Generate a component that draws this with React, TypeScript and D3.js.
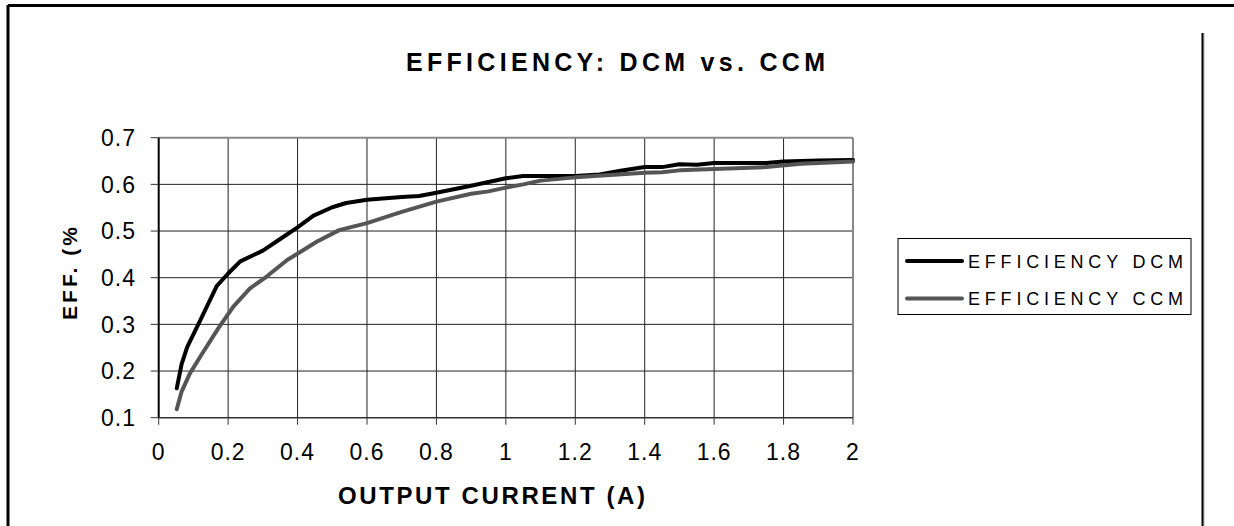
import React from 'react';
import * as d3 from 'd3';

// values
const xTicks = [0, 0.2, 0.4, 0.6, 0.8, 1, 1.2, 1.4, 1.6, 1.8, 2];
const yTicks = [0.1, 0.2, 0.3, 0.4, 0.5, 0.6, 0.7];

const dcmCurrent = [0.052, 0.066, 0.082, 0.12, 0.167, 0.2, 0.235, 0.3, 0.35, 0.4, 0.446, 0.5, 0.54, 0.6, 0.7, 0.75, 0.8, 0.9, 1.0, 1.05, 1.1, 1.2, 1.27, 1.33, 1.4, 1.45, 1.5, 1.55, 1.6, 1.7, 1.75, 1.8, 1.9, 2.0];
const dcmEff = [0.163, 0.215, 0.251, 0.309, 0.382, 0.409, 0.435, 0.458, 0.483, 0.508, 0.533, 0.551, 0.56, 0.567, 0.573, 0.575, 0.582, 0.597, 0.613, 0.618, 0.618, 0.618, 0.621, 0.629, 0.637, 0.637, 0.643, 0.642, 0.646, 0.646, 0.646, 0.649, 0.651, 0.652];

const ccmCurrent = [0.052, 0.066, 0.09, 0.12, 0.172, 0.215, 0.263, 0.31, 0.37, 0.41, 0.455, 0.52, 0.6, 0.7, 0.8, 0.9, 0.95, 1.0, 1.05, 1.1, 1.2, 1.3, 1.4, 1.45, 1.5, 1.6, 1.75, 1.85, 1.9, 2.0];
const ccmEff = [0.118, 0.156, 0.195, 0.231, 0.292, 0.338, 0.377, 0.402, 0.438, 0.456, 0.477, 0.502, 0.517, 0.541, 0.563, 0.58, 0.585, 0.593, 0.6, 0.608, 0.615, 0.62, 0.625, 0.626, 0.63, 0.633, 0.637, 0.644, 0.646, 0.649];

const seriesNames = ['EFFICIENCY DCM', 'EFFICIENCY CCM'];
const seriesColors = ['#000000', '#555555'];

const W = 1234;
const H = 526;
const font = '"Liberation Sans", Arial, sans-serif';

export default function App() {
  const x = d3.scaleLinear().domain([0, 2]).range([158.7, 853]);
  const y = d3.scaleLinear().domain([0.1, 0.7]).range([417.7, 137.7]);

  const line = d3
    .line<[number, number]>()
    .x((d) => x(d[0]))
    .y((d) => y(d[1]));

  const dcm = dcmCurrent.map((c, i) => [c, dcmEff[i]] as [number, number]);
  const ccm = ccmCurrent.map((c, i) => [c, ccmEff[i]] as [number, number]);
  const series = [dcm, ccm];

  const [x0, x1] = x.range();
  const [y0, y1] = y.range();

  return (
    <svg
      width={W}
      height={H}
      style={{ position: 'absolute', left: 0, top: 0, background: '#fff' }}
      fontFamily={font}
    >
      {/* outer frame */}
      <line x1={8} y1={5.5} x2={W} y2={5.5} stroke="#000" strokeWidth={3} />
      <line x1={8} y1={5} x2={8} y2={H} stroke="#000" strokeWidth={3} />
      <line x1={1204} y1={33} x2={1204} y2={H} stroke="#ccc" strokeWidth={1.5} />
      <line x1={1202.5} y1={33} x2={1202.5} y2={H} stroke="#000" strokeWidth={2} />

      {/* title */}
      <text
        x={406}
        y={71}
        fontSize={25}
        fontWeight="bold"
        textLength={419}
        lengthAdjust="spacing"
      >
        EFFICIENCY: DCM vs. CCM
      </text>

      {/* grid */}
      {xTicks.slice(1, -1).map((t) => (
        <line key={'gx' + t} x1={x(t)} x2={x(t)} y1={y1} y2={y0} stroke="#222" strokeWidth={1} />
      ))}
      {yTicks.slice(1, -1).map((t) => (
        <line key={'gy' + t} x1={x0} x2={x1} y1={y(t)} y2={y(t)} stroke="#222" strokeWidth={1} />
      ))}
      {/* plot border top/right */}
      <line x1={x0} x2={x1} y1={y1} y2={y1} stroke="#888" strokeWidth={2} />
      <line x1={x1} x2={x1} y1={y1} y2={y0} stroke="#888" strokeWidth={2} />

      {/* axes */}
      <line x1={x0} x2={x1} y1={y0} y2={y0} stroke="#333" strokeWidth={1.5} />
      <line x1={x0} x2={x0} y1={y1} y2={y0} stroke="#000" strokeWidth={2} />
      {xTicks.map((t) => (
        <g key={'tx' + t}>
          <line x1={x(t)} x2={x(t)} y1={y0} y2={y0 + 7} stroke="#333" strokeWidth={1} />
          <text
            x={x(t)}
            y={460}
            fontSize={23}
            textAnchor="middle"
            letterSpacing={1}
          >
            {d3.format('~g')(t)}
          </text>
        </g>
      ))}
      {yTicks.map((t) => (
        <g key={'ty' + t}>
          <line x1={x0 - 8} x2={x0} y1={y(t)} y2={y(t)} stroke="#333" strokeWidth={1} />
          <text
            x={136}
            y={y(t) + 8.3}
            fontSize={23}
            textAnchor="end"
            letterSpacing={1}
          >
            {d3.format('.1f')(t)}
          </text>
        </g>
      ))}

      {/* axis titles */}
      <text
        x={338}
        y={503.5}
        fontSize={24}
        fontWeight="bold"
        textLength={307}
        lengthAdjust="spacing"
      >
        OUTPUT CURRENT (A)
      </text>
      <text
        transform="translate(77,320) rotate(-90)"
        fontSize={21}
        fontWeight="bold"
        textLength={93}
        lengthAdjust="spacing"
      >
        EFF. (%
      </text>

      {/* series */}
      {series.map((s, i) => (
        <path
          key={seriesNames[i]}
          d={line(s) || ''}
          fill="none"
          stroke={seriesColors[i]}
          strokeWidth={4}
          strokeLinejoin="round"
          strokeLinecap="round"
        />
      ))}

      {/* legend */}
      <rect x={898} y={238.5} width={293} height={76} fill="#fff" stroke="#000" strokeWidth={1} />
      {seriesNames.map((name, i) => {
        const ly = 261 + i * 37.5;
        return (
          <g key={'lg' + name}>
            <line x1={907} x2={962} y1={ly} y2={ly} stroke={seriesColors[i]} strokeWidth={4} strokeLinecap="round" />
            <text x={968} y={ly + 6.5} fontSize={18} textLength={215} lengthAdjust="spacing">
              {name}
            </text>
          </g>
        );
      })}
    </svg>
  );
}
